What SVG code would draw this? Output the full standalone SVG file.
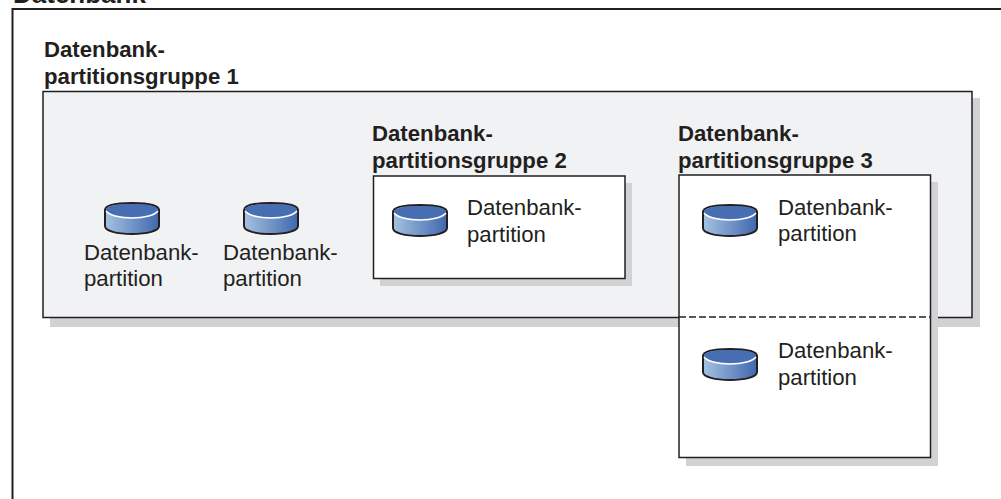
<svg xmlns="http://www.w3.org/2000/svg" width="1001" height="499" viewBox="0 0 1001 499">
<style>
text{font-family:"Liberation Sans",Arial,sans-serif;font-size:22.2px;fill:#231f20}
.b{font-weight:bold}
.box{stroke:#231f20;stroke-width:1.5}
.sh{fill:#d1d2d4}
.rim{fill:none;stroke:#fff;stroke-width:1.5}
.cyl{stroke:#231f20;stroke-width:2;fill:url(#g)}
.top{fill:#476eb3}
</style>
<defs>
<linearGradient id="g"><stop offset="0" stop-color="#a5c2e0"/><stop offset="1" stop-color="#4068ae"/></linearGradient>
<g id="db">
<path class="cyl" d="M0 7V23C0 28 12 31 27 31S54 28 54 23V7C54 2 42 0 27 0S0 2 0 7Z"/>
<path class="top" d="M1 7C1 3 12 1 27 1S53 3 53 7C53 11 42 14 27 14S1 11 1 7Z"/>
<path class="rim" d="M1 8C4 12 14 15 27 15S50 12 53 8"/>
</g>
</defs>
<rect width="1001" height="499" fill="#fff"/>
<g id="database">
<path fill="none" stroke="#231f20" stroke-width="2" d="M12.500 499V9H1001"/>
<text class="b" x="13" y="3" style="font-size:26px">Datenbank</text>
</g>
<g id="group1">
<rect class="sh" x="50" y="98" width="930" height="229"/>
<rect class="box" x="43" y="91.500" width="929" height="226" fill="#f1f2f4"/>
<text class="b" x="44" y="57">Datenbank-</text>
<text class="b" x="44" y="84">partitionsgruppe 1</text>
</g>
<g id="partition1">
<use href="#db" x="105" y="203"/>
<text x="84" y="260">Datenbank-</text>
<text x="84" y="286">partition</text>
</g>
<g id="partition2">
<use href="#db" x="244" y="203"/>
<text x="223" y="260">Datenbank-</text>
<text x="223" y="286">partition</text>
</g>
<g id="group2">
<rect class="sh" x="380" y="183" width="252" height="103"/>
<rect class="box" x="373.500" y="176" width="251.500" height="102.500" fill="#fff"/>
<text class="b" x="372" y="141">Datenbank-</text>
<text class="b" x="372" y="168">partitionsgruppe 2</text>
</g>
<g id="partition3">
<use href="#db" x="393" y="205"/>
<text x="467" y="215">Datenbank-</text>
<text x="467" y="242">partition</text>
</g>
<g id="group3">
<rect class="sh" x="686" y="182" width="252" height="284"/>
<rect class="box" x="679" y="175" width="251.500" height="282.500" fill="#fff"/>
<line x1="679" y1="317" x2="930" y2="317" stroke="#231f20" stroke-width="1.5" stroke-dasharray="7 3"/>
<text class="b" x="678" y="141">Datenbank-</text>
<text class="b" x="678" y="168">partitionsgruppe 3</text>
</g>
<g id="partition4">
<use href="#db" x="703" y="205"/>
<text x="778" y="214.500">Datenbank-</text>
<text x="778" y="241">partition</text>
</g>
<g id="partition5">
<use href="#db" x="703" y="349"/>
<text x="778" y="358">Datenbank-</text>
<text x="778" y="385">partition</text>
</g>
<g id="connectors"/>
</svg>
